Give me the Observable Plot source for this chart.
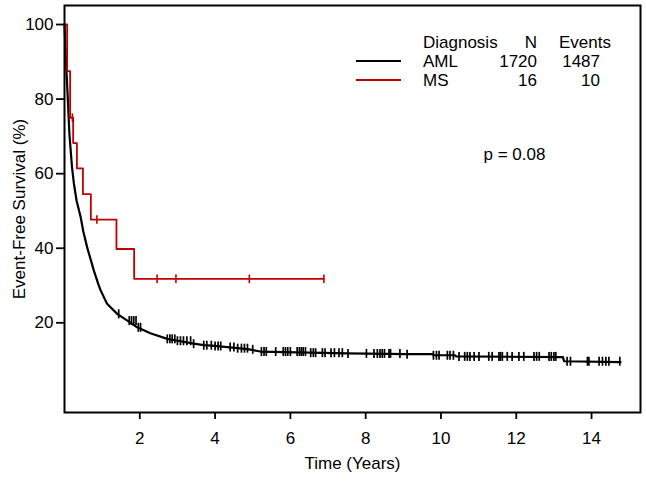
<!DOCTYPE html>
<html>
<head>
<meta charset="utf-8">
<script src="https://cdn.jsdelivr.net/npm/d3@7"></script>
<script src="https://cdn.jsdelivr.net/npm/@observablehq/plot@0.6"></script>
<style>
  html, body { margin: 0; padding: 0; background: #fff; }
</style>
</head>
<body>
<div id="chart"></div>
<script>
// ---- Data ----
// AML Kaplan-Meier estimate (time in years, event-free survival %)
const amlTime = [0, 0.02, 0.045, 0.07, 0.09, 0.13, 0.2, 0.25, 0.32, 0.43, 0.5, 0.6, 0.7, 0.78, 0.9, 0.96, 1.13, 1.4, 1.67, 1.93, 2.28, 2.73, 3.0, 3.43, 3.7, 4.0, 4.32, 4.6, 4.9, 5.2, 6.5, 7.5, 9.1, 9.78, 9.8, 10.38, 10.4, 13.24, 13.27, 14.77];
const amlSurv = [100, 95, 88.5, 84, 79.6, 70.7, 61.7, 57.3, 52.8, 48.3, 44.5, 40.3, 36.8, 34.0, 30.3, 28.7, 25.1, 22.4, 20.6, 18.8, 17.2, 15.7, 15.2, 14.4, 14.0, 13.8, 13.5, 13.2, 12.9, 12.3, 12.0, 11.8, 11.6, 11.6, 11.3, 11.3, 11.0, 10.8, 9.7, 9.45];
// AML censoring times
const amlCensor = [1.44, 1.72, 1.78, 1.84, 1.9, 1.96, 2.02, 2.73, 2.8, 2.86, 2.93, 3.0, 3.08, 3.16, 3.25, 3.35, 3.43, 3.7, 3.78, 3.9, 4.0, 4.08, 4.15, 4.4, 4.5, 4.6, 4.7, 4.78, 4.86, 5.0, 5.23, 5.3, 5.36, 5.61, 5.81, 5.87, 5.93, 6.0, 6.18, 6.24, 6.29, 6.34, 6.4, 6.54, 6.61, 6.67, 6.85, 6.92, 7.08, 7.17, 7.29, 7.38, 7.53, 8.02, 8.22, 8.31, 8.38, 8.44, 8.5, 8.62, 8.66, 8.91, 9.1, 9.8, 9.88, 9.95, 10.17, 10.24, 10.33, 10.48, 10.63, 10.7, 10.77, 10.88, 11.01, 11.27, 11.36, 11.54, 11.58, 11.63, 11.76, 11.89, 12.07, 12.2, 12.47, 12.54, 12.61, 12.87, 12.93, 13.0, 13.05, 13.35, 13.44, 13.89, 13.93, 14.2, 14.29, 14.38, 14.46, 14.75];
// MS Kaplan-Meier estimate
const msTime = [0, 0.07, 0.15, 0.23, 0.33, 0.49, 0.70, 1.38, 1.85, 6.89];
const msSurv = [100, 87.5, 75, 68.2, 61.4, 54.5, 47.7, 39.8, 31.8, 31.8];
const msCensor = [0.21, 0.86, 2.46, 2.96, 4.91, 6.89];

// Legend table
const groups = ["AML", "MS"];
const groupN = [1720, 16];
const groupEvents = [1487, 10];
const pValueText = "p = 0.08";

const xTicks = [2, 4, 6, 8, 10, 12, 14];
const yTicks = [20, 40, 60, 80, 100];
const xTitle = "Time (Years)";
const yTitle = "Event-Free Survival (%)";

// ---- Build tables ----
const aml = amlTime.map((t, i) => ({t, s: amlSurv[i]}));
const ms = msTime.map((t, i) => ({t, s: msSurv[i]}));
// KM convention: censor mark sits at the current estimate (last value at or before t)
function stepLookup(times, surv, t) {
  let v = surv[0];
  for (let i = 0; i < times.length; i++) { if (times[i] <= t) v = surv[i]; else break; }
  return v;
}
const amlC = amlCensor.map(t => ({t, s: stepLookup(amlTime, amlSurv, t)}));
const msC = msCensor.map(t => ({t, s: stepLookup(msTime, msSurv, t)}));

const vbar = {
  draw(context, size) {
    const h = Math.sqrt(size / Math.PI);
    context.moveTo(0, -h);
    context.lineTo(0, h);
  }
};

const RED = "#c00000";
const FONT = "'Liberation Sans', Arial, Helvetica, sans-serif";

const plot = Plot.plot({
  width: 646,
  height: 481,
  marginLeft: 64,
  marginTop: 5,
  marginRight: 6,
  marginBottom: 69,
  x: {domain: [0, 15.3]},
  y: {domain: [-4.05, 105.1]},
  style: {fontFamily: FONT, fontSize: "17px", color: "black", background: "white", overflow: "visible"},
  marks: [
    Plot.axisX({ticks: xTicks, tickSize: 7, tickPadding: 12, label: null, strokeWidth: 1.8, fontSize: 17}),
    Plot.axisY({ticks: yTicks, tickSize: 8, tickPadding: 3, label: null, strokeWidth: 1.8, fontSize: 17}),
    Plot.text([xTitle], {text: d => d, frameAnchor: "bottom", dy: 56, textAnchor: "middle", fontSize: 17, fill: "black"}),
    Plot.text([yTitle], {text: d => d, frameAnchor: "left", rotate: -90, dx: -45, textAnchor: "middle", fontSize: 17, fill: "black"}),
    Plot.line(aml, {x: "t", y: "s", stroke: "black", strokeWidth: 2.2}),
    Plot.dot(amlC, {x: "t", y: "s", symbol: vbar, r: 4.5, stroke: "black", strokeWidth: 1.7, fill: "none"}),
    Plot.line(ms, {x: "t", y: "s", curve: "step-after", stroke: RED, strokeWidth: 1.8}),
    Plot.dot(msC, {x: "t", y: "s", symbol: vbar, r: 4.3, stroke: RED, strokeWidth: 1.6, fill: "none"}),
    Plot.text([pValueText], {text: d => d, frameAnchor: "top-left", dx: 419, dy: 142, textAnchor: "start", fontSize: 17, fill: "black"}),
    Plot.frame({stroke: "black", strokeWidth: 2})
  ]
});

// ---- Legend (table-style, inside plot frame) ----
const svg = d3.select(plot);
const lg = svg.append("g").attr("font-family", FONT).attr("font-size", 17).attr("fill", "black").attr("text-anchor", "start");
const colors = ["black", RED];
const rowY = [61, 80];
lg.append("text").attr("x", 423).attr("y", 42).attr("dy", "0.35em").attr("text-anchor", "start").text("Diagnosis");
lg.append("text").attr("x", 537).attr("y", 42).attr("dy", "0.35em").attr("text-anchor", "end").text("N");
lg.append("text").attr("x", 611).attr("y", 42).attr("dy", "0.35em").attr("text-anchor", "end").text("Events");
groups.forEach((g, i) => {
  lg.append("line").attr("x1", 356).attr("x2", 401).attr("y1", rowY[i]).attr("y2", rowY[i])
    .attr("stroke", colors[i]).attr("stroke-width", 2);
  lg.append("text").attr("x", 423).attr("y", rowY[i]).attr("dy", "0.35em").attr("text-anchor", "start").text(g);
  lg.append("text").attr("x", 537).attr("y", rowY[i]).attr("dy", "0.35em").attr("text-anchor", "end").text(groupN[i]);
  lg.append("text").attr("x", 600).attr("y", rowY[i]).attr("dy", "0.35em").attr("text-anchor", "end").text(groupEvents[i]);
});

document.getElementById("chart").appendChild(plot);
</script>
</body>
</html>
